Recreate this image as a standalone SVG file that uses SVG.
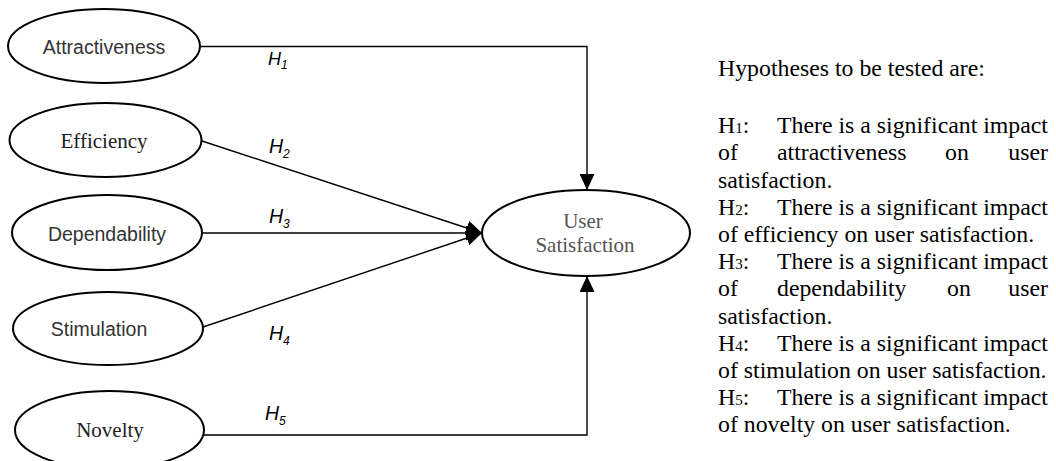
<svg xmlns="http://www.w3.org/2000/svg" width="1056" height="461" viewBox="0 0 1056 461">
<style>
.node{fill:#fff;stroke:#000;stroke-width:2}
.sans{font-family:"Liberation Sans",Arial,sans-serif;font-size:19.5px;fill:#333;text-anchor:middle}
.serif{font-family:"Liberation Serif","Times New Roman",serif;font-size:21px;fill:#222;text-anchor:middle}
.us{fill:#555}
.conn{fill:none;stroke:#000;stroke-width:1.4}
.h{font-family:"Liberation Sans",Arial,sans-serif;font-style:italic;font-size:19.5px;fill:#000}
.sub{font-size:12px}
.txt{font-family:"Liberation Serif","Times New Roman",serif;font-size:23.8px;fill:#000}
.s{font-size:15px}
</style>
<defs>
<marker id="arr" markerWidth="16" markerHeight="15" refX="16" refY="7.5" orient="auto" markerUnits="userSpaceOnUse">
<path d="M0,0 L16,7.5 L0,15 z" fill="#000"/>
</marker>
</defs>
<rect width="1056" height="461" fill="#fff"/>
<g id="connectors">
<polyline class="conn" points="200,46.5 587,46.5 587,190" marker-end="url(#arr)"/>
<line class="conn" x1="202" y1="141" x2="482" y2="233" marker-end="url(#arr)"/>
<line class="conn" x1="202" y1="233" x2="482" y2="233" marker-end="url(#arr)"/>
<line class="conn" x1="203" y1="327" x2="482" y2="233" marker-end="url(#arr)"/>
<polyline class="conn" points="204,435 587,435 587,276" marker-end="url(#arr)"/>
</g>
<g id="labels">
<text class="h" x="268" y="65" style="font-size:18px">H<tspan class="sub" dy="4">1</tspan></text>
<text class="h" x="269" y="153">H<tspan class="sub" dy="5">2</tspan></text>
<text class="h" x="269" y="223">H<tspan class="sub" dy="5">3</tspan></text>
<text class="h" x="269" y="340">H<tspan class="sub" dy="5">4</tspan></text>
<text class="h" x="265" y="420">H<tspan class="sub" dy="5">5</tspan></text>
</g>
<g id="attractiveness">
<ellipse class="node" cx="104" cy="46" rx="96" ry="37"/>
<text class="sans" x="104" y="54">Attractiveness</text>
</g>
<g id="efficiency">
<ellipse class="node" cx="105.5" cy="140" rx="96" ry="37"/>
<text class="serif" x="104" y="148">Efficiency</text>
</g>
<g id="dependability">
<ellipse class="node" cx="107" cy="232.5" rx="95" ry="37.5"/>
<text class="sans" x="107" y="241">Dependability</text>
</g>
<g id="stimulation">
<ellipse class="node" cx="108" cy="328.5" rx="95" ry="36.5"/>
<text class="sans" x="99" y="336">Stimulation</text>
</g>
<g id="novelty">
<ellipse class="node" cx="109.5" cy="430" rx="94.5" ry="39"/>
<text class="serif" x="110" y="437">Novelty</text>
</g>
<g id="user-satisfaction">
<ellipse class="node" cx="586" cy="233" rx="104" ry="43"/>
<text class="serif us" x="583" y="228">User</text>
<text class="serif us" x="585" y="252">Satisfaction</text>
</g>
<g id="hypotheses">
<text class="txt" x="718" y="76">Hypotheses to be tested are:</text>
<text class="txt" x="718" y="133">H<tspan class="s">1</tspan>:</text>
<text class="txt" x="1048" y="133" text-anchor="end">There is a significant impact</text>
<text class="txt" x="718" y="160">of</text>
<text class="txt" x="777" y="160">attractiveness</text>
<text class="txt" x="945" y="160">on</text>
<text class="txt" x="1048" y="160" text-anchor="end">user</text>
<text class="txt" x="718" y="187.5">satisfaction.</text>
<text class="txt" x="718" y="214.5">H<tspan class="s">2</tspan>:</text>
<text class="txt" x="1048" y="214.5" text-anchor="end">There is a significant impact</text>
<text class="txt" x="718" y="242">of efficiency on user satisfaction.</text>
<text class="txt" x="718" y="269">H<tspan class="s">3</tspan>:</text>
<text class="txt" x="1048" y="269" text-anchor="end">There is a significant impact</text>
<text class="txt" x="718" y="296">of</text>
<text class="txt" x="777" y="296">dependability</text>
<text class="txt" x="947" y="296">on</text>
<text class="txt" x="1048" y="296" text-anchor="end">user</text>
<text class="txt" x="718" y="323.5">satisfaction.</text>
<text class="txt" x="718" y="350.5">H<tspan class="s">4</tspan>:</text>
<text class="txt" x="1048" y="350.5" text-anchor="end">There is a significant impact</text>
<text class="txt" x="718" y="378">of stimulation on user satisfaction.</text>
<text class="txt" x="718" y="405">H<tspan class="s">5</tspan>:</text>
<text class="txt" x="1048" y="405" text-anchor="end">There is a significant impact</text>
<text class="txt" x="718" y="432">of novelty on user satisfaction.</text>
</g>
</svg>
